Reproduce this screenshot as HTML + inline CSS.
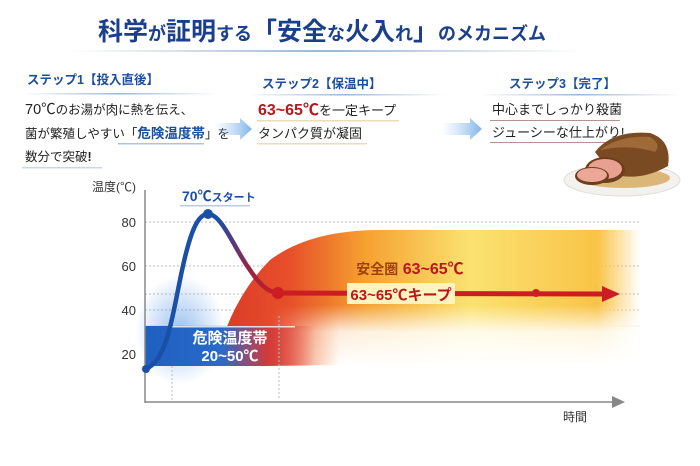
<!DOCTYPE html>
<html><head><meta charset="utf-8"><style>
body{margin:0;background:#fff;}
svg{display:block;font-family:"Liberation Sans","Noto Sans CJK JP",sans-serif;}
</style></head><body>
<svg width="700" height="466" viewBox="0 0 700 466" xmlns="http://www.w3.org/2000/svg">
<defs>
<linearGradient id="ul" x1="0" x2="1"><stop offset="0" stop-color="#9bb6d8" stop-opacity="0"/><stop offset="0.5" stop-color="#9bb6d8"/><stop offset="1" stop-color="#9bb6d8" stop-opacity="0"/></linearGradient>
<linearGradient id="arr" x1="0" x2="1"><stop offset="0" stop-color="#a9cdf0" stop-opacity="0"/><stop offset="1" stop-color="#7fb4ea"/></linearGradient>
<linearGradient id="safe" x1="0" x2="1"><stop offset="0" stop-color="#d83a2a"/><stop offset="0.18" stop-color="#e8502a"/><stop offset="0.35" stop-color="#f5a030"/><stop offset="0.6" stop-color="#fbe270"/><stop offset="0.9" stop-color="#f9c448"/><stop offset="1" stop-color="#f9c448" stop-opacity="0"/></linearGradient>
<linearGradient id="safeV" x1="0" y1="230" x2="0" y2="366" gradientUnits="userSpaceOnUse"><stop offset="0" stop-color="#fff" stop-opacity="0"/><stop offset="0.55" stop-color="#fff" stop-opacity="0"/><stop offset="0.75" stop-color="#fff" stop-opacity="0.85"/><stop offset="1" stop-color="#fff" stop-opacity="1"/></linearGradient>
<linearGradient id="mh" x1="270" y1="0" x2="340" y2="0" gradientUnits="userSpaceOnUse"><stop offset="0" stop-color="#fff" stop-opacity="0"/><stop offset="1" stop-color="#fff" stop-opacity="1"/></linearGradient>
<mask id="m"><rect x="0" y="0" width="700" height="466" fill="url(#mh)"/></mask>
<linearGradient id="danger" x1="0" x2="1"><stop offset="0" stop-color="#1e5fc0"/><stop offset="0.45" stop-color="#2a6ac8"/><stop offset="0.72" stop-color="#d23a3a"/><stop offset="1" stop-color="#e05050" stop-opacity="0"/></linearGradient>
<radialGradient id="bglow" cx="0.5" cy="0.5" r="0.5"><stop offset="0" stop-color="#5a9ae6" stop-opacity="0.6"/><stop offset="1" stop-color="#5a9ae6" stop-opacity="0"/></radialGradient>
<linearGradient id="curve" x1="0" x2="1"><stop offset="0" stop-color="#1a4fa8"/><stop offset="0.55" stop-color="#1a4fa8"/><stop offset="0.8" stop-color="#a02040"/><stop offset="1" stop-color="#cc1e22"/></linearGradient>
</defs>

<text x="322" y="40" text-anchor="middle" font-size="25" font-weight="bold" fill="#1a3f8c">科学<tspan font-size="18">が</tspan>証明<tspan font-size="18">する</tspan>「安全<tspan font-size="18">な</tspan>火入<tspan font-size="18">れ</tspan>」<tspan font-size="18">のメカニズム</tspan></text>
<rect x="70" y="50" width="510" height="2" fill="url(#ul)"/>

<text x="27" y="84" font-size="12.5" font-weight="bold" fill="#1a4fa0">ステップ1【投入直後】</text>
<rect x="22" y="93" width="195" height="1.5" fill="url(#ul)"/>
<text x="25" y="114" font-size="12.5" fill="#222"><tspan font-size="14.5">70℃</tspan>のお湯が肉に熱を伝え、</text>
<text x="25" y="138" font-size="12.5" fill="#222">菌が繁殖しやすい「<tspan fill="#1a4fa0" font-weight="bold" font-size="13.5">危険温度帯</tspan>」を</text>
<rect x="118" y="143" width="86" height="1.5" fill="#a8c4e8"/>
<text x="25" y="161" font-size="12.5" fill="#222">数分で突破<tspan font-weight="bold">!</tspan></text>
<rect x="22" y="167" width="80" height="1.5" fill="#c8d8ec"/>
<polygon points="214,123 240,123 240,118 252,129 240,140 240,135 214,135" fill="url(#arr)"/>

<text x="262" y="88" font-size="12.5" font-weight="bold" fill="#1a4fa0">ステップ2【保温中】</text>
<rect x="245" y="94" width="200" height="1.5" fill="url(#ul)"/>
<text x="258" y="115" font-size="13" fill="#222"><tspan font-size="16" fill="#b8181c" font-weight="bold">63~65℃</tspan>を一定キープ</text>
<rect x="257" y="120" width="142" height="1.5" fill="#eedcb8"/>
<text x="258" y="138" font-size="13" fill="#222">タンパク質が凝固</text>
<rect x="257" y="143" width="110" height="1.5" fill="#eedcb8"/>
<polygon points="442,123 470,123 470,118 482,129 470,140 470,135 442,135" fill="url(#arr)"/>

<text x="509" y="88" font-size="12.5" font-weight="bold" fill="#1a4fa0">ステップ3【完了】</text>
<rect x="480" y="94" width="200" height="1.5" fill="url(#ul)"/>
<text x="492" y="114" font-size="13" fill="#222">中心までしっかり殺菌</text>
<rect x="490" y="120" width="130" height="1" fill="#b89090"/>
<text x="492" y="137" font-size="13" fill="#222">ジューシーな仕上がり!</text>
<rect x="490" y="142" width="130" height="1" fill="#b89090"/>

<ellipse cx="622" cy="180" rx="58" ry="16" fill="#f3f1ee" stroke="#ddd"/>
<ellipse cx="624" cy="178" rx="46" ry="10" fill="#c9902c" opacity="0.6"/>
<path d="M595,152 Q612,130 650,133 Q672,140 668,166 Q640,182 612,174 Z" fill="#7a4a22"/>
<path d="M600,150 Q620,135 650,137 Q662,144 655,152 Q630,144 600,150Z" fill="#a06a38"/>
<ellipse cx="605" cy="170" rx="20" ry="13" fill="#6e3e1c"/>
<ellipse cx="605" cy="169" rx="17" ry="10" fill="#e8a090"/>
<ellipse cx="592" cy="176" rx="17" ry="9" fill="#6e3e1c"/>
<ellipse cx="592" cy="175" rx="15" ry="7" fill="#eba898"/>

<text x="92" y="191" font-size="12" fill="#333">温度(℃)</text>
<g font-size="13" fill="#333" text-anchor="end">
<text x="136" y="227">80</text><text x="136" y="271">60</text><text x="136" y="315">40</text><text x="136" y="359">20</text></g>
<g stroke="#bbb" stroke-dasharray="2,2" stroke-width="1">
<line x1="145" y1="222" x2="640" y2="222"/><line x1="145" y1="266" x2="640" y2="266"/>
<line x1="145" y1="310" x2="640" y2="310"/><line x1="145" y1="354" x2="640" y2="354"/>
<line x1="145" y1="294" x2="640" y2="294"/>
</g>
<line x1="145" y1="326" x2="640" y2="326" stroke="#ddd"/>

<path d="M215,365 Q230,300 270,260 Q310,230 380,230 L640,230 L640,366 Z" fill="url(#safe)"/>
<rect x="200" y="228" width="445" height="140" fill="url(#safeV)" mask="url(#m)"/>
<ellipse cx="180" cy="330" rx="45" ry="55" fill="url(#bglow)"/>
<rect x="145" y="326" width="170" height="40" fill="url(#danger)"/>
<rect x="170" y="326" width="125" height="1.5" fill="#fff" opacity="0.8"/>
<text x="230" y="343" text-anchor="middle" font-size="15" fill="#fff" font-weight="bold">危険温度帯</text>
<text x="230" y="361" text-anchor="middle" font-size="15" fill="#fff" font-weight="bold">20~50℃</text>

<g stroke="#bbb" stroke-dasharray="2,2"><line x1="172" y1="366" x2="172" y2="400"/><line x1="279" y1="316" x2="279" y2="400"/></g>

<line x1="145" y1="190" x2="145" y2="403" stroke="#888" stroke-width="1.5"/>
<line x1="145" y1="402" x2="615" y2="402" stroke="#888" stroke-width="1.5"/>
<polygon points="612,396 612,408 625,402" fill="#888"/>
<text x="563" y="421" font-size="12" fill="#333">時間</text>

<path d="M146,369 C165,360 170,330 180,280 C190,230 198,214 208,214 C222,214 235,250 250,270 C260,285 268,292 278,293" fill="none" stroke="url(#curve)" stroke-width="4.5" stroke-linecap="round"/>
<circle cx="146" cy="369" r="4" fill="#1a4fa8"/>
<circle cx="208" cy="214" r="5" fill="#1a4fa8"/>
<text x="182" y="201" font-size="14" font-weight="bold" fill="#1a4fa8">70℃<tspan font-size="11">スタート</tspan></text>
<rect x="180" y="205" width="70" height="1.5" fill="#b8cce8"/>

<line x1="278" y1="293" x2="605" y2="294" stroke="#cc1e22" stroke-width="5"/>
<polygon points="602,286 602,302 620,294" fill="#cc1e22"/>
<circle cx="278" cy="293" r="6" fill="#cc1e22"/>
<circle cx="536" cy="293" r="4" fill="#cc1e22"/>
<rect x="347" y="283" width="108" height="21" fill="#fff3c0"/>
<text x="401" y="300" text-anchor="middle" font-size="15" font-weight="bold" fill="#b8181c">63~65℃キープ</text>
<text x="410" y="274" text-anchor="middle" font-size="16" font-weight="bold" fill="#b8181c"><tspan fill="#a0400c" font-size="14">安全圏</tspan> 63~65℃</text>
</svg>
</body></html>
